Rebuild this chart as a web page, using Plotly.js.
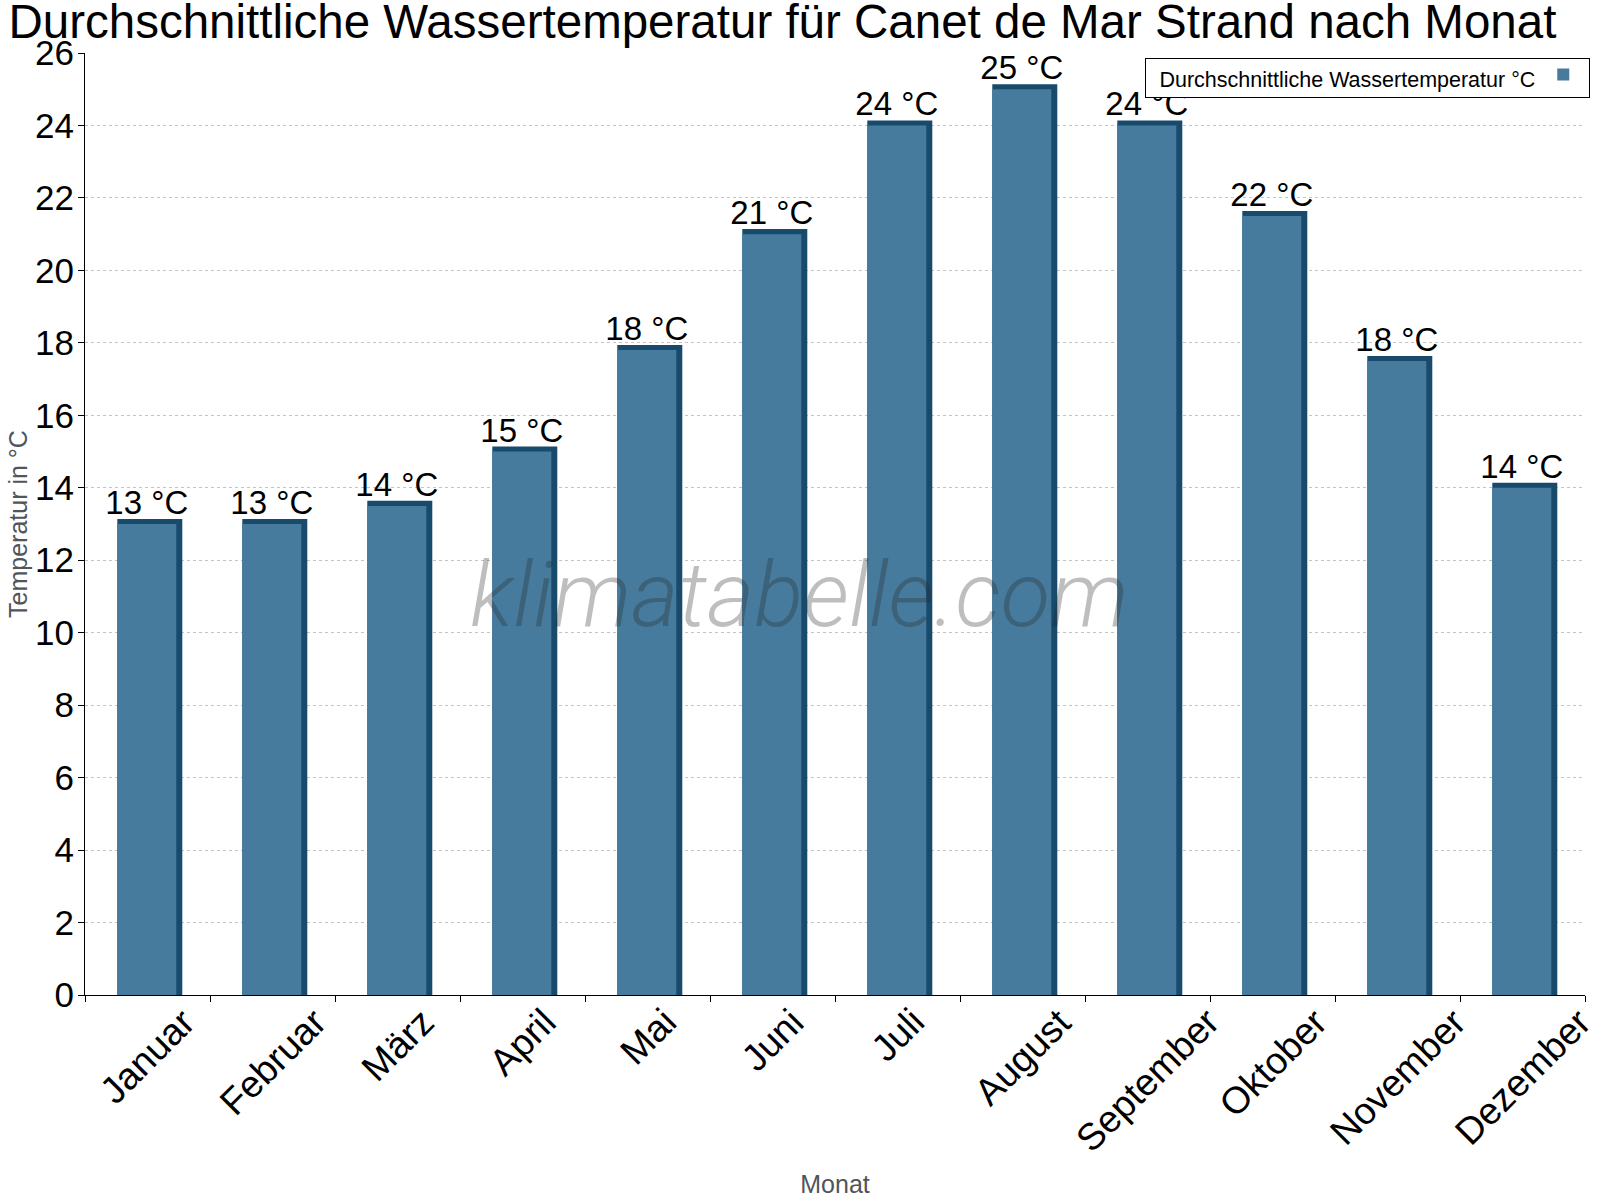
<!DOCTYPE html>
<html>
<head>
<meta charset="utf-8">
<script src="https://cdn.plot.ly/plotly-3.0.1.min.js"></script>
<style>html,body{margin:0;padding:0;background:#fff;}</style>
</head>
<body>
<div id="chart" style="width:1600px;height:1200px;"></div>
<script>
const months = ['Januar','Februar','März','April','Mai','Juni','Juli','August','September','Oktober','November','Dezember'];
const waterTemp = [13, 13, 13.5, 15, 17.8, 21, 24, 25, 24, 21.5, 17.5, 14];
const yTicks = [0,2,4,6,8,10,12,14,16,18,20,22,24,26];
const seriesName = 'Durchschnittliche Wassertemperatur °C';
const titleText = 'Durchschnittliche Wassertemperatur für Canet de Mar Strand nach Monat';
const watermark = 'klimatabelle.com';

const labels = waterTemp.map(v => Math.round(v) + ' °C');
const FONT = 'Liberation Sans, Arial, sans-serif';

const depth = 0.14; // 3D top thickness in axis units
const back = {
  type: 'bar',
  x: months,
  y: waterTemp.map(v => v + depth),
  width: 0.52,
  offset: -0.2416,
  marker: {color: '#184a6c', line: {width: 0}},
  showlegend: false,
  hoverinfo: 'skip'
};
const front = {
  type: 'bar',
  x: months,
  y: waterTemp,
  width: 0.472,
  offset: -0.2416,
  marker: {color: '#467b9d', line: {width: 0}},
  name: '',
  showlegend: true,
  text: labels,
  textposition: 'outside',
  constraintext: 'none',
  textfont: {family: FONT, size: 33, color: '#000'},
  cliponaxis: false
};

// rotated month labels, centred under each category (as in the reference)
const monthLabels = months.map(m => ({
  text: m,
  x: m, xref: 'x',
  y: 0, yref: 'paper',
  yshift: -3,
  xanchor: 'center', yanchor: 'top',
  textangle: -45,
  showarrow: false,
  font: {family: FONT, size: 37.5, color: '#000'}
}));

const layout = {
  width: 1600,
  height: 1200,
  paper_bgcolor: '#fff',
  plot_bgcolor: '#fff',
  barmode: 'overlay',
  margin: {l: 85, r: 15, t: 53, b: 205, autoexpand: false},
  title: {
    text: titleText,
    font: {family: FONT, size: 47.5, color: '#000'},
    x: 0.489, xanchor: 'center', xref: 'container',
    y: 0.996, yanchor: 'top', yref: 'container'
  },
  xaxis: {
    type: 'category',
    range: [-0.5, 11.5],
    tickson: 'boundaries',
    ticks: 'outside',
    ticklen: 6,
    tickcolor: '#000',
    tickwidth: 1,
    showline: true,
    linecolor: '#000',
    linewidth: 1,
    showgrid: false,
    showticklabels: false,
    title: {text: 'Monat', font: {family: FONT, size: 25, color: '#50555a'}, standoff: 180},
    automargin: false
  },
  yaxis: {
    range: [0, 26],
    tickvals: yTicks,
    ticktext: yTicks.map(String),
    ticks: 'outside',
    ticklen: 6,
    tickcolor: '#000',
    showline: true,
    linecolor: '#000',
    linewidth: 1,
    showgrid: true,
    gridcolor: '#c4c4c4',
    griddash: 'dot',
    gridwidth: 1,
    zeroline: false,
    ticklabelstandoff: -3,
    tickfont: {family: FONT, size: 35, color: '#000'},
    title: {text: 'Temperatur in °C', font: {family: FONT, size: 25, color: '#50555a'}, standoff: 0},
    automargin: false
  },
  legend: {
    x: 1.003, xanchor: 'right',
    y: 0.9947, yanchor: 'top',
    bgcolor: '#fff',
    bordercolor: '#000',
    borderwidth: 1,
    font: {family: FONT, size: 14, color: '#000'},
    title: {text: '\u00a0\u00a0' + seriesName, side: 'left', font: {family: FONT, size: 21.5, color: '#000'}},
    itemwidth: 30
  },
  annotations: [{
    text: watermark,
    xref: 'paper', yref: 'paper',
    x: 0.476, y: 0.4246,
    xanchor: 'center', yanchor: 'middle',
    showarrow: false,
    font: {family: 'Roboto, Liberation Sans, sans-serif', size: 91, color: 'rgba(40,40,40,0.3)', style: 'italic', weight: 300}
  }].concat(monthLabels),
  showlegend: true
};

Plotly.newPlot('chart', [back, front], layout, {displayModeBar: false, staticPlot: true});
</script>
</body>
</html>
